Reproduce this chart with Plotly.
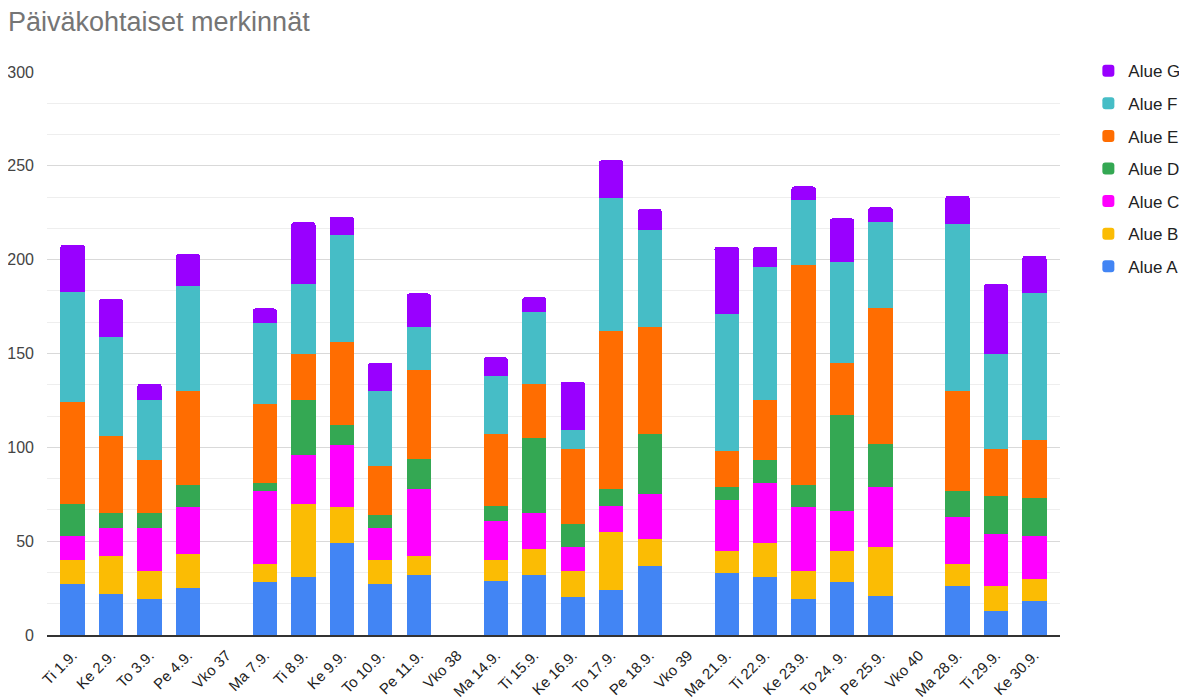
import plotly.graph_objects as go

categories = ["Ti 1.9.", "Ke 2.9.", "To 3.9.", "Pe 4.9.", "Vko 37",
              "Ma 7.9.", "Ti 8.9.", "Ke 9.9.", "To 10.9.", "Pe 11.9.", "Vko 38",
              "Ma 14.9.", "Ti 15.9.", "Ke 16.9.", "To 17.9.", "Pe 18.9.", "Vko 39",
              "Ma 21.9.", "Ti 22.9.", "Ke 23.9.", "To 24. 9.", "Pe 25.9.", "Vko 40",
              "Ma 28.9.", "Ti 29.9.", "Ke 30.9."]

alue_a = [27, 22, 19, 25, None, 28, 31, 49, 27, 32, None, 29, 32, 20, 24, 37, None, 33, 31, 19, 28, 21, None, 26, 13, 18]
alue_b = [13, 20, 15, 18, None, 10, 39, 19, 13, 10, None, 11, 14, 14, 31, 14, None, 12, 18, 15, 17, 26, None, 12, 13, 12]
alue_c = [13, 15, 23, 25, None, 39, 26, 33, 17, 36, None, 21, 19, 13, 14, 24, None, 27, 32, 34, 21, 32, None, 25, 28, 23]
alue_d = [17, 8, 8, 12, None, 4, 29, 11, 7, 16, None, 8, 40, 12, 9, 32, None, 7, 12, 12, 51, 23, None, 14, 20, 20]
alue_e = [54, 41, 28, 50, None, 42, 25, 44, 26, 47, None, 38, 29, 40, 84, 57, None, 19, 32, 117, 28, 72, None, 53, 25, 31]
alue_f = [59, 53, 32, 56, None, 43, 37, 57, 40, 23, None, 31, 38, 10, 71, 52, None, 73, 71, 35, 54, 46, None, 89, 51, 78]
alue_g = [25, 20, 9, 17, None, 8, 33, 10, 15, 18, None, 10, 8, 26, 20, 11, None, 36, 11, 7, 23, 8, None, 15, 37, 20]

series = [
    ("Alue A", alue_a, "#4285F4"),
    ("Alue B", alue_b, "#FBBC04"),
    ("Alue C", alue_c, "#FF00FF"),
    ("Alue D", alue_d, "#34A853"),
    ("Alue E", alue_e, "#FF6D01"),
    ("Alue F", alue_f, "#46BDC6"),
    ("Alue G", alue_g, "#9900FF"),
]

FONT = "Arial, 'Liberation Sans', sans-serif"

fig = go.Figure()
n = len(series)
for i, (name, vals, color) in enumerate(series):
    fig.add_trace(go.Bar(
        x=categories, y=vals, name=name, legendgroup=name, legendrank=n - i,
        marker=dict(color=color, line=dict(width=0)),
    ))

fig.update_layout(
    barmode="stack",
    bargap=0.37,
    barcornerradius=3,
    width=1187, height=700,
    paper_bgcolor="white", plot_bgcolor="white",
    margin=dict(l=39, r=135, t=64, b=73, autoexpand=False),
    title=dict(text="Päiväkohtaiset merkinnät", x=0.0, xanchor="left",
               yref="container", y=0.994, yanchor="top", pad=dict(t=0, b=0, l=0),
               font=dict(family=FONT, size=27, color="#757575")),
    font=dict(family=FONT, size=15, color="#444444"),
    legend=dict(traceorder="grouped", x=1.028, xanchor="left", y=1.0335, yanchor="top",
                font=dict(family=FONT, size=17, color="#222222"), tracegroupgap=7.5,
                bgcolor="rgba(0,0,0,0)"),
    xaxis=dict(type="category", categoryorder="array", categoryarray=categories,
               range=[-0.665, 25.665], tickangle=-45, automargin=False,
               tickfont=dict(family=FONT, size=15, color="#222222"), ticklabelstandoff=4,
               showgrid=False, showline=True, linecolor="#333333", linewidth=1.5,
               ticks="", fixedrange=True),
    yaxis=dict(range=[0, 300], dtick=50, tick0=0, showgrid=True, gridcolor="#d9d9d9",
               gridwidth=1, zeroline=False, showline=False, ticks="", automargin=False,
               tickfont=dict(family=FONT, size=16, color="#444444"), ticklabelstandoff=12,
               minor=dict(dtick=50/3, tick0=0, showgrid=True, gridcolor="#eeeeee", gridwidth=1)),
)

fig.write_html("out.html")
